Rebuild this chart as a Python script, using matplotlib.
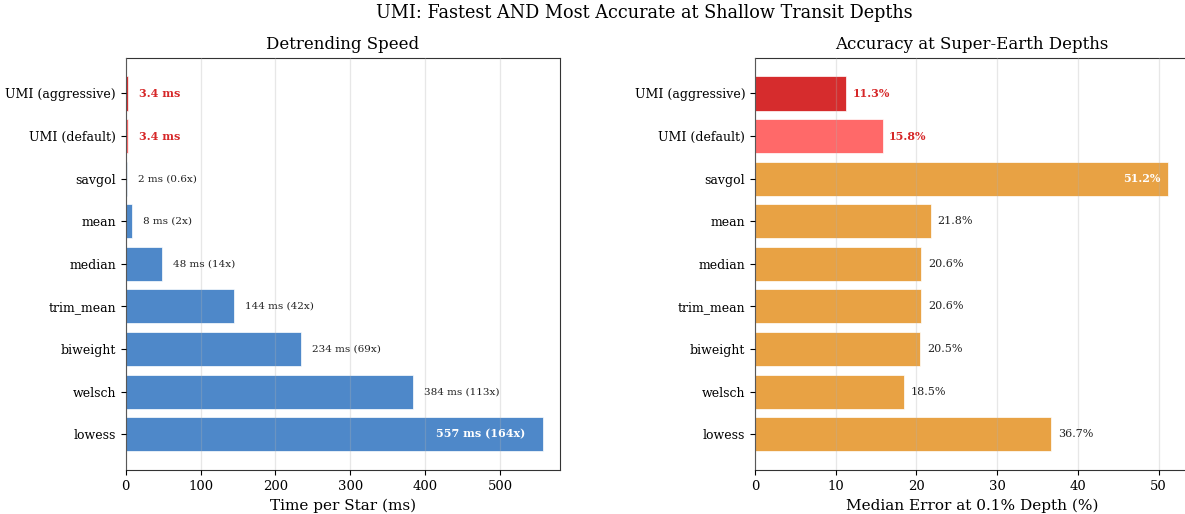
import matplotlib
matplotlib.use("Agg")
import matplotlib.pyplot as plt
import numpy as np

plt.rcParams['font.family'] = ['DejaVu Serif']

methods = ["UMI (aggressive)", "UMI (default)", "savgol", "mean", "median",
           "trim_mean", "biweight", "welsch", "lowess"]
time_ms = [3.4, 3.4, 2, 8, 48, 144, 234, 384, 557]
speed_labels = ["3.4 ms", "3.4 ms", "2 ms (0.6x)", "8 ms (2x)", "48 ms (14x)",
                "144 ms (42x)", "234 ms (69x)", "384 ms (113x)", "557 ms (164x)"]
error_pct = [11.3, 15.8, 51.2, 21.8, 20.6, 20.6, 20.5, 18.5, 36.7]

speed_colors = ["#d62728", "#ff6666"] + ["#4a86c8"] * 7
acc_colors = ["#d62728", "#ff6666"] + ["#e8a040"] * 7

W, H = 1185, 514
fig = plt.figure(figsize=(W / 100, H / 100), dpi=100)
ax1 = fig.add_axes([125.7 / W, 1 - 470 / H, 434.3 / W, (470 - 57.7) / H])
ax2 = fig.add_axes([755 / W, 1 - 470 / H, 434.3 / W, (470 - 57.7) / H])

y = np.arange(len(methods))

def style(ax):
    ax.set_yticks(y)
    ax.set_yticklabels(methods, fontsize=9)
    ax.tick_params(axis='x', labelsize=9.5)
    ax.invert_yaxis()
    ax.set_axisbelow(False)
    ax.grid(axis='x', color='#b0b0b0', alpha=0.3, linewidth=0.9)
    for s in ax.spines.values():
        s.set_color('#333333')

# Speed panel
ax1.barh(y, time_ms, height=0.8, color=speed_colors, edgecolor='white',
         linewidth=0.5, alpha=0.98)
ax1.set_xlim(0, 580)
style(ax1)
for i, (v, lab) in enumerate(zip(time_ms, speed_labels)):
    if i < 2:
        ax1.text(v + 15, i, lab, va='center', ha='left', fontsize=8,
                 fontweight='bold', color='#d62728')
    elif v == max(time_ms):
        ax1.text(v - 23, i, lab, va='center', ha='right', fontsize=8,
                 fontweight='bold', color='white')
    else:
        ax1.text(v + 15, i, lab, va='center', ha='left', fontsize=7.5,
                 color='#222222')
ax1.set_xlabel("Time per Star (ms)", fontsize=11)
ax1.set_title("Detrending Speed", fontsize=12)

# Accuracy panel
ax2.barh(y, error_pct, height=0.8, color=acc_colors, edgecolor='white',
         linewidth=0.5, alpha=0.98)
ax2.set_xlim(0, 53.8)
style(ax2)
for i, v in enumerate(error_pct):
    lab = f"{v:.1f}%"
    if i < 2:
        ax2.text(v + 0.8, i, lab, va='center', ha='left', fontsize=8,
                 fontweight='bold', color='#d62728')
    elif v == max(error_pct):
        ax2.text(v - 1.0, i, lab, va='center', ha='right', fontsize=8,
                 fontweight='bold', color='white')
    else:
        ax2.text(v + 0.8, i, lab, va='center', ha='left', fontsize=8,
                 color='#222222')
ax2.set_xlabel("Median Error at 0.1% Depth (%)", fontsize=11)
ax2.set_title("Accuracy at Super-Earth Depths", fontsize=12)

fig.suptitle("UMI: Fastest AND Most Accurate at Shallow Transit Depths",
             fontsize=12.7, x=644 / W, y=0.992)

fig.savefig("out.png", dpi=100)
